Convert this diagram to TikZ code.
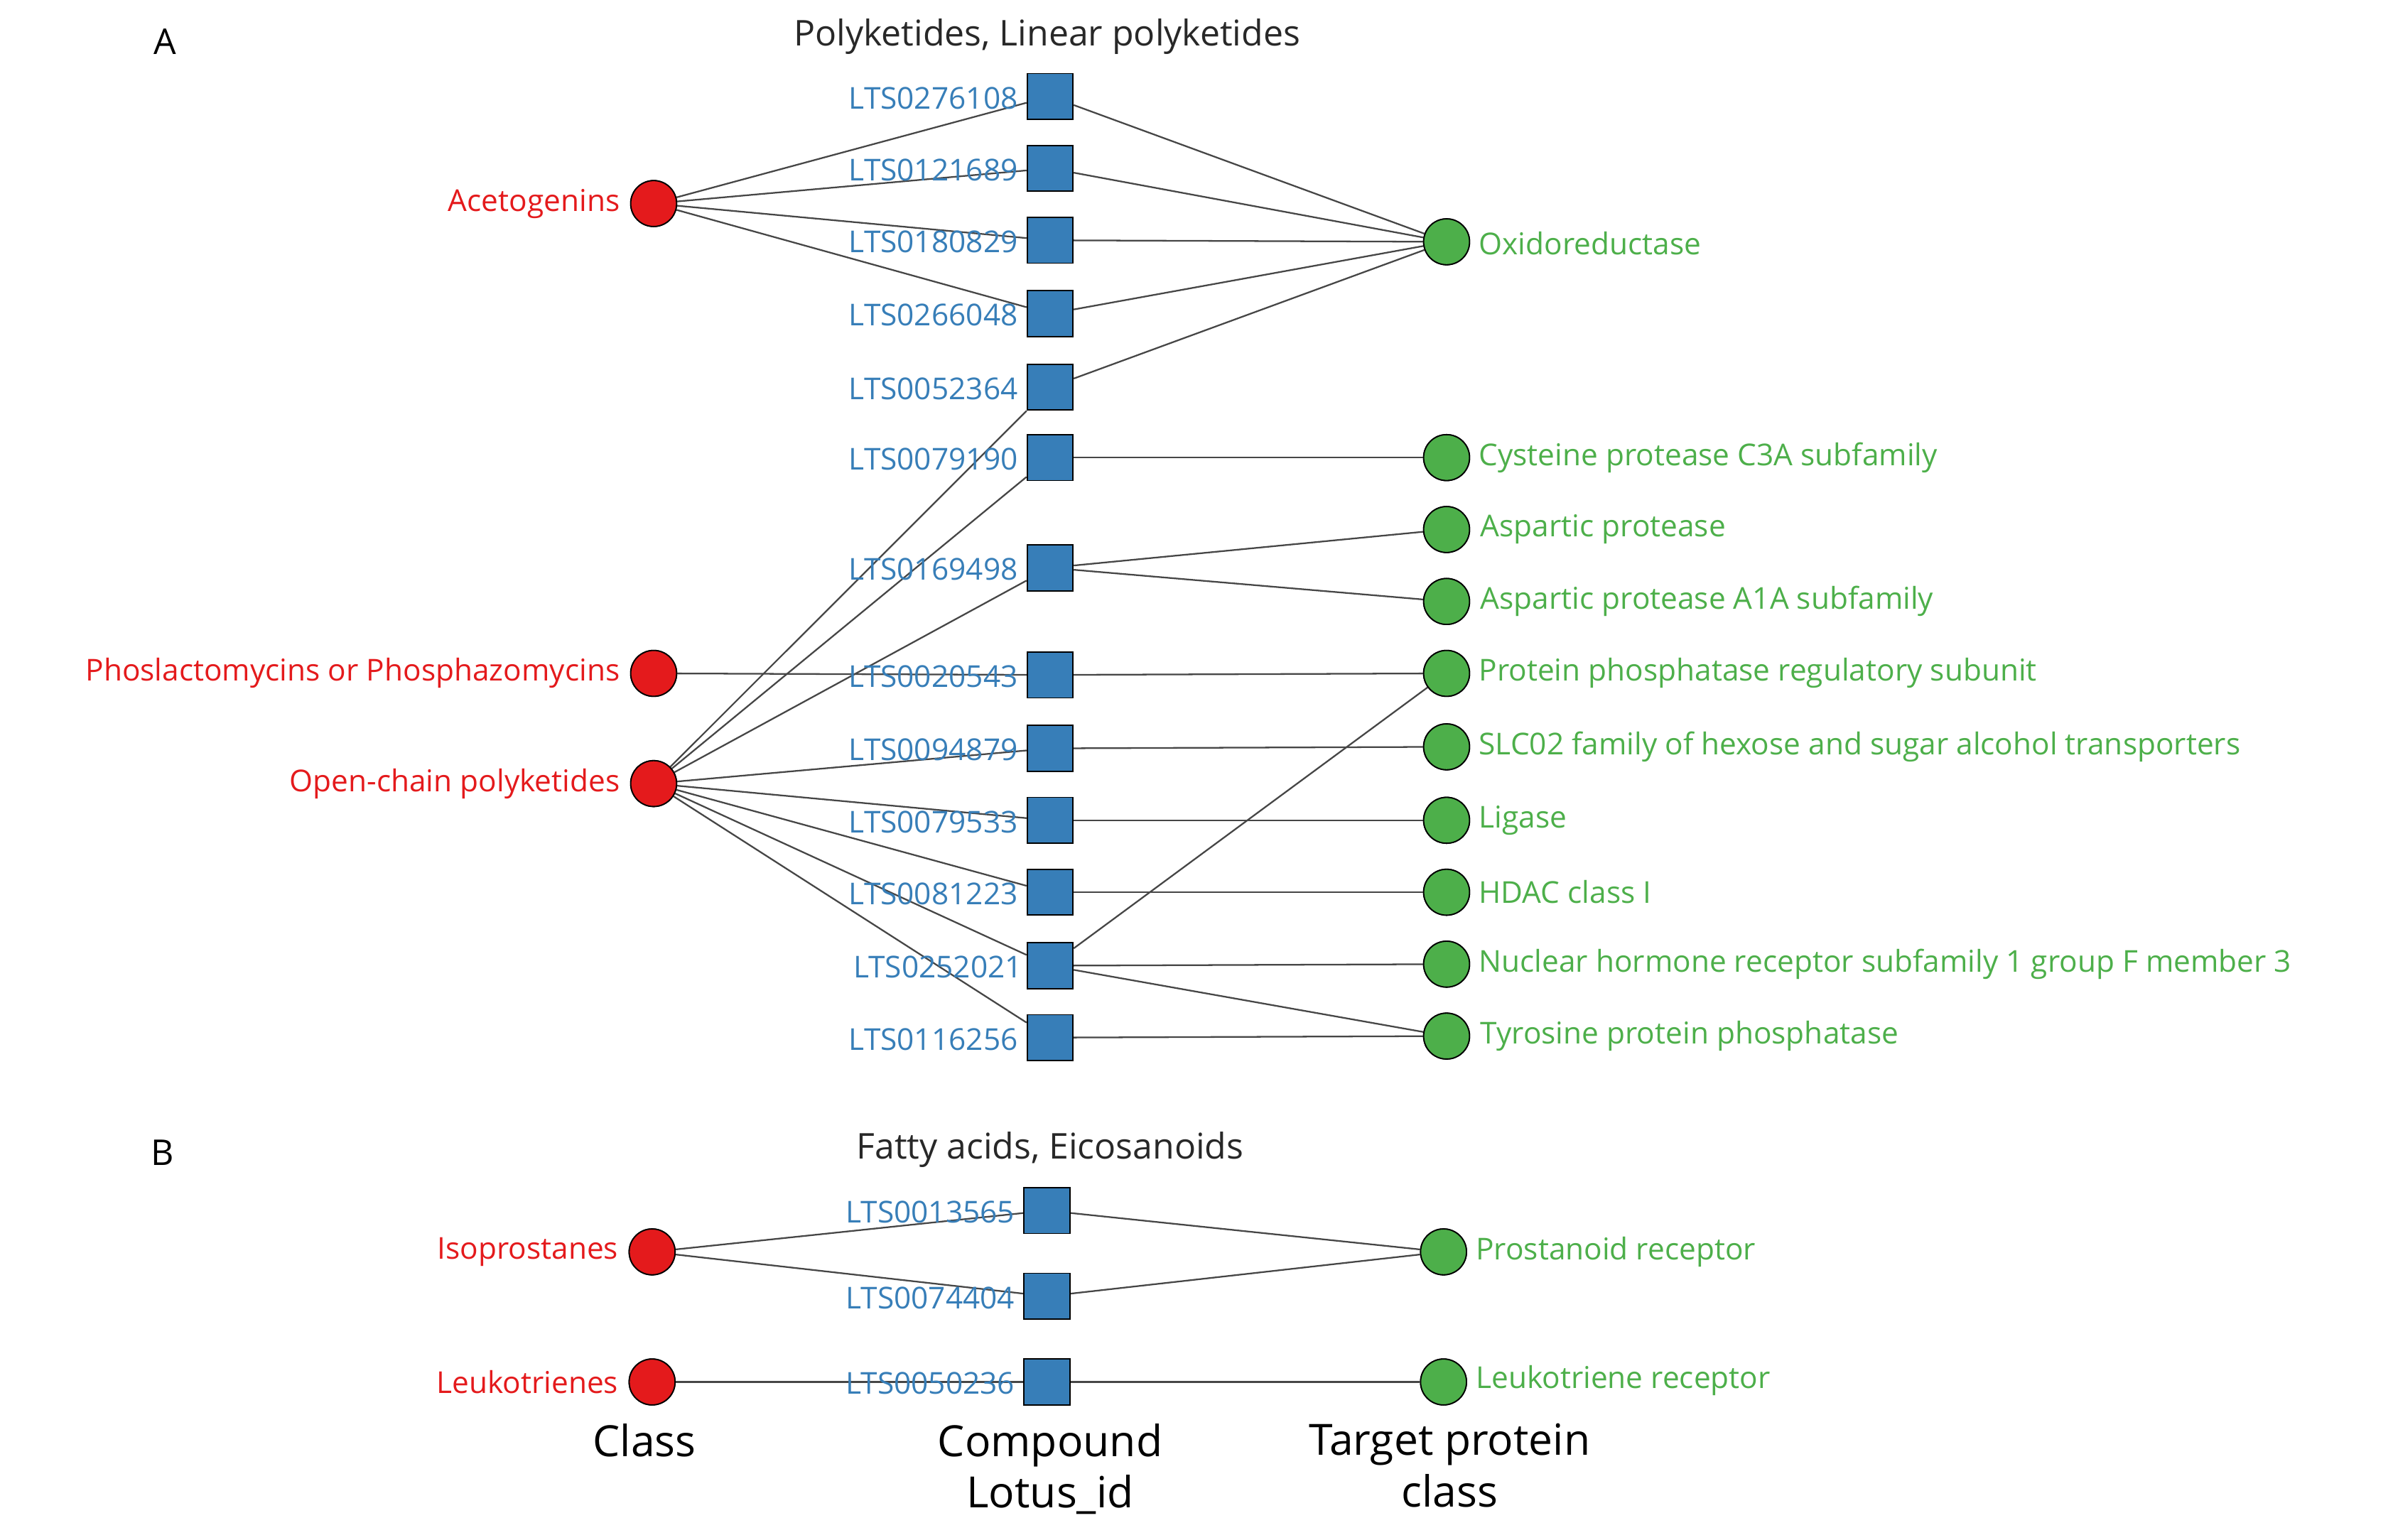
\documentclass[tikz,border=0pt]{standalone}
\usepackage{fontspec}
\setmainfont{Open Sans}
\begin{document}
\begin{tikzpicture}[x=0.05cm,y=-0.05cm,
 cls/.style={circle,draw=black,line width=1.2pt,fill={rgb,255:red,228;green,26;blue,28},minimum size=1.5cm,inner sep=0},
 cmp/.style={rectangle,draw=black,line width=1.2pt,fill={rgb,255:red,55;green,126;blue,184},minimum size=1.5cm,inner sep=0},
 tgt/.style={circle,draw=black,line width=1.2pt,fill={rgb,255:red,77;green,175;blue,74},minimum size=1.5cm,inner sep=0},
 cl/.style={text={rgb,255:red,228;green,26;blue,28},font=\fontsize{28}{32}\selectfont,anchor=east,inner sep=0},
 ml/.style={text={rgb,255:red,55;green,126;blue,184},font=\fontsize{28}{32}\selectfont,anchor=east,inner sep=0},
 tl/.style={text={rgb,255:red,77;green,175;blue,74},font=\fontsize{28}{32}\selectfont,anchor=west,inner sep=0},
 ttl/.style={text={rgb,255:red,40;green,40;blue,40},font=\fontsize{33}{38}\selectfont,inner sep=0},
 bot/.style={font=\fontsize{40}{48}\selectfont,align=center,inner sep=0},
 e/.style={draw={rgb,255:red,70;green,70;blue,70},line width=1.5pt}]
\useasboundingbox (0,0) rectangle (1560,1006);
\clip (0,0) rectangle (1560,1006);
% nodes A
\node[cls] (ace) at (427,133) {};
\node[cls] (pho) at (427,440) {};
\node[cls] (ope) at (427,512) {};
\node[cmp] (c1) at (686,63) {};
\node[cmp] (c2) at (686,110) {};
\node[cmp] (c3) at (686,157) {};
\node[cmp] (c4) at (686,205) {};
\node[cmp] (c5) at (686,253) {};
\node[cmp] (c6) at (686,299) {};
\node[cmp] (c7) at (686,371) {};
\node[cmp] (c8) at (686,441) {};
\node[cmp] (c9) at (686,489) {};
\node[cmp] (c10) at (686,536) {};
\node[cmp] (c11) at (686,583) {};
\node[cmp] (c12) at (686,631) {};
\node[cmp] (c13) at (686,678) {};
\node[tgt] (t1) at (945,158) {};
\node[tgt] (t2) at (945,299) {};
\node[tgt] (t3) at (945,346) {};
\node[tgt] (t4) at (945,393) {};
\node[tgt] (t5) at (945,440) {};
\node[tgt] (t6) at (945,488) {};
\node[tgt] (t7) at (945,536) {};
\node[tgt] (t8) at (945,583) {};
\node[tgt] (t9) at (945,630) {};
\node[tgt] (t10) at (945,677) {};
% nodes B
\node[cls] (iso) at (426,818) {};
\node[cls] (leu) at (426,903) {};
\node[cmp] (d1) at (684,791) {};
\node[cmp] (d2) at (684,847) {};
\node[cmp] (d3) at (684,903) {};
\node[tgt] (u1) at (943,818) {};
\node[tgt] (u2) at (943,903) {};
% edges
\begin{scope}[on background layer/.style={}]
\foreach \c in {c1,c2,c3,c4} \path[e] (ace) -- (\c);
\foreach \c in {c5,c6,c7,c9,c10,c11,c12,c13} \path[e] (ope) -- (\c);
\path[e] (pho) -- (c8);
\foreach \c in {c1,c2,c3,c4,c5} \path[e] (\c) -- (t1);
\path[e] (c6) -- (t2); \path[e] (c7) -- (t3); \path[e] (c7) -- (t4);
\path[e] (c8) -- (t5); \path[e] (c9) -- (t6); \path[e] (c10) -- (t7);
\path[e] (c11) -- (t8); \path[e] (c12) -- (t5); \path[e] (c12) -- (t9);
\path[e] (c12) -- (t10); \path[e] (c13) -- (t10);
\path[e] (iso) -- (d1); \path[e] (iso) -- (d2); \path[e] (leu) -- (d3);
\path[e] (d1) -- (u1); \path[e] (d2) -- (u1); \path[e] (d3) -- (u2);
\end{scope}
% redraw nodes on top
\foreach \n in {ace,pho,ope,iso,leu} \node[cls] at (\n) {};
\foreach \n in {c1,c2,c3,c4,c5,c6,c7,c8,c9,c10,c11,c12,c13,d1,d2,d3} \node[cmp] at (\n) {};
\foreach \n in {t1,t2,t3,t4,t5,t6,t7,t8,t9,t10,u1,u2} \node[tgt] at (\n) {};
% labels
\node[cl] (la1) at (405,133) {Acetogenins};
\node[cl] (la2) at (405,440) {Phoslactomycins or Phosphazomycins};
\node[cl] (la3) at (405,512) {Open-chain polyketides};
\node[cl] (la4) at (404,818) {Isoprostanes};
\node[cl] (la5) at (404,903) {Leukotrienes};
\node[ml] (lc1) at (665,64) {LTS0276108};
\node[ml] (lc2) at (665,111) {LTS0121689};
\node[ml] (lc3) at (665,158) {LTS0180829};
\node[ml] (lc4) at (665,206) {LTS0266048};
\node[ml] (lc5) at (665,254) {LTS0052364};
\node[ml] (lc6) at (665,300) {LTS0079190};
\node[ml] (lc7) at (665,372) {LTS0169498};
\node[ml] (lc8) at (665,442) {LTS0020543};
\node[ml] (lc9) at (665,490) {LTS0094879};
\node[ml] (lc10) at (665,537) {LTS0079533};
\node[ml] (lc11) at (665,584) {LTS0081223};
\node[ml] (lc12) at (668,632) {LTS0252021};
\node[ml] (lc13) at (665,679) {LTS0116256};
\node[ml] (ld1) at (663,792) {LTS0013565};
\node[ml] (ld2) at (663,848) {LTS0074404};
\node[ml] (ld3) at (663,904) {LTS0050236};
\node[tl] (lt1) at (966,159) {Oxidoreductase};
\node[tl] (lt2) at (966,299) {Cysteine protease C3A subfamily};
\node[tl] (lt3) at (967,346) {Aspartic protease};
\node[tl] (lt4) at (967,393) {Aspartic protease A1A subfamily};
\node[tl] (lt5) at (966,440) {Protein phosphatase regulatory subunit};
\node[tl] (lt6) at (966,488) {SLC02 family of hexose and sugar alcohol transporters};
\node[tl] (lt7) at (966,536) {Ligase};
\node[tl] (lt8) at (966,583) {HDAC class I};
\node[tl] (lt9) at (966,630) {Nuclear hormone receptor subfamily 1 group F member 3};
\node[tl] (lt10) at (967,677) {Tyrosine protein phosphatase};
\node[tl] (lu1) at (964,818) {Prostanoid receptor};
\node[tl] (lu2) at (964,902) {Leukotriene receptor};
\node[ttl] (tA) at (684,24) {Polyketides, Linear polyketides};
\node[ttl] (tB) at (686,751) {Fatty acids, Eicosanoids};
\node[ttl,text=black] (A) at (108,27) {A};
\node[ttl,text=black] (B) at (106,753) {B};
\node[bot,anchor=north] (b1) at (421,930) {Class};
\node[bot,anchor=north] (b2) at (686,930) {Compound\\Lotus\_id};
\node[bot,anchor=north] (b3) at (947,930) {Target protein\\class};
\end{tikzpicture}
\end{document}
